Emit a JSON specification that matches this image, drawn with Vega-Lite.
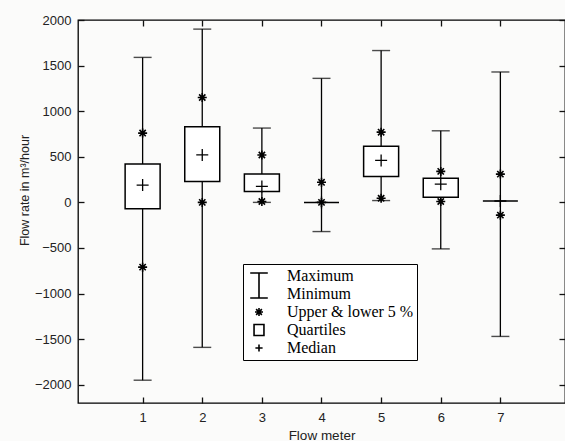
{
  "$schema": "https://vega.github.io/schema/vega-lite/v6.json",
  "width": 487,
  "height": 383,
  "autosize": {"type": "none"},
  "padding": {"left": 78, "top": 20, "right": 0, "bottom": 38},
  "background": "#fbfbfa",
  "datasets": {
    "stats": [
      {"meter": 1, "min": -1950, "p5lo": -710, "q1": -70, "median": 190, "q3": 420, "p5hi": 760, "max": 1590},
      {"meter": 2, "min": -1590, "p5lo": 0, "q1": 230, "median": 520, "q3": 830, "p5hi": 1150, "max": 1900},
      {"meter": 3, "min": 0, "p5lo": 10, "q1": 120, "median": 175, "q3": 310, "p5hi": 520, "max": 815},
      {"meter": 4, "min": -320, "p5lo": 0, "q1": 0, "median": 0, "q3": 0, "p5hi": 220, "max": 1360},
      {"meter": 5, "min": 20, "p5lo": 45, "q1": 285, "median": 460, "q3": 615, "p5hi": 770, "max": 1665},
      {"meter": 6, "min": -510, "p5lo": 10, "q1": 55, "median": 200, "q3": 265, "p5hi": 340, "max": 785},
      {"meter": 7, "min": -1470, "p5lo": -140, "q1": 15, "median": 15, "q3": 15, "p5hi": 310, "max": 1430}
    ],
    "legendItems": [
      {"item": "Maximum"},
      {"item": "Minimum"},
      {"item": "Upper & lower 5 %"},
      {"item": "Quartiles"},
      {"item": "Median"}
    ]
  },
  "data": {"name": "stats"},
  "config": {
    "view": {"stroke": "black", "strokeWidth": 1.3},
    "axis": {
      "labelFont": "Liberation Sans",
      "titleFont": "Liberation Sans",
      "labelFontSize": 13,
      "titleFontSize": 13,
      "titleFontWeight": "normal",
      "labelColor": "#222",
      "titleColor": "#222",
      "ticks": true,
      "tickColor": "#111",
      "tickOpacity": 1,
      "domain": false,
      "grid": false,
      "tickSize": 6,
      "offset": -6,
      "tickWidth": 1.3,
      "format": "d"
    }
  },
  "resolve": {"axis": {"x": "independent", "y": "independent"}},
  "layer": [
    {
      "mark": {"type": "rule", "color": "black", "strokeWidth": 1.3},
      "encoding": {
        "x": {"field": "meter", "type": "quantitative", "scale": {"domain": [0, 8], "nice": false, "zero": false},
              "axis": {"values": [1, 2, 3, 4, 5, 6, 7], "title": "Flow meter", "labelPadding": 8, "titlePadding": 4, "titleFontSize": 13.5}},
        "y": {"field": "min", "type": "quantitative", "scale": {"domain": [-2200, 2000], "nice": false, "zero": false},
              "axis": {"values": [-2000, -1500, -1000, -500, 0, 500, 1000, 1500, 2000], "title": "Flow rate in m³/hour", "labelPadding": 7, "titlePadding": 3, "titleFontSize": 12.5, "titleY": 170}},
        "y2": {"field": "max"}
      }
    },
    {
      "mark": {"type": "bar", "width": 35, "fill": "white", "stroke": "black", "strokeWidth": 1.5},
      "encoding": {
        "x": {"field": "meter", "type": "quantitative", "axis": null},
        "y": {"field": "q1", "type": "quantitative", "axis": null},
        "y2": {"field": "q3"}
      }
    },
    {
      "mark": {"type": "tick", "orient": "horizontal", "size": 18, "thickness": 1.4, "color": "black"},
      "encoding": {
        "x": {"field": "meter", "type": "quantitative", "axis": {"orient": "top", "values": [1, 2, 3, 4, 5, 6, 7], "labels": false, "title": null}},
        "y": {"field": "max", "type": "quantitative", "axis": {"orient": "right", "values": [-2000, -1500, -1000, -500, 0, 500, 1000, 1500, 2000], "labels": false, "title": null}}
      }
    },
    {
      "mark": {"type": "tick", "orient": "horizontal", "size": 18, "thickness": 1.4, "color": "black"},
      "encoding": {
        "x": {"field": "meter", "type": "quantitative", "axis": null},
        "y": {"field": "min", "type": "quantitative", "axis": null}
      }
    },
    {
      "mark": {"type": "point", "shape": "M-1,0L1,0M0,-1L0,1M-0.7,-0.7L0.7,0.7M-0.7,0.7L0.7,-0.7", "size": 81, "filled": false, "stroke": "black", "strokeWidth": 1.6, "opacity": 1},
      "encoding": {
        "x": {"field": "meter", "type": "quantitative", "axis": null},
        "y": {"field": "p5hi", "type": "quantitative", "axis": null}
      }
    },
    {
      "mark": {"type": "point", "shape": "M-1,0L1,0M0,-1L0,1M-0.7,-0.7L0.7,0.7M-0.7,0.7L0.7,-0.7", "size": 81, "filled": false, "stroke": "black", "strokeWidth": 1.6, "opacity": 1},
      "encoding": {
        "x": {"field": "meter", "type": "quantitative", "axis": null},
        "y": {"field": "p5lo", "type": "quantitative", "axis": null}
      }
    },
    {
      "mark": {"type": "point", "shape": "M-1,0L1,0M0,-1L0,1", "size": 144, "filled": false, "stroke": "black", "strokeWidth": 1.3, "opacity": 1},
      "encoding": {
        "x": {"field": "meter", "type": "quantitative", "axis": null},
        "y": {"field": "median", "type": "quantitative", "axis": null}
      }
    },
    {
      "data": {"name": "legendItems"},
      "mark": {"type": "point", "opacity": 0, "filled": false},
      "encoding": {
        "x": {"datum": 4, "type": "quantitative", "axis": null},
        "y": {"datum": 0, "type": "quantitative", "axis": null},
        "shape": {
          "field": "item",
          "type": "nominal",
          "scale": {
            "domain": ["Maximum", "Minimum", "Upper & lower 5 %", "Quartiles", "Median"],
            "range": [
              "M-1.1,-0.38H1.1M0,-0.38V1.2",
              "M0,-1.2V0.5M-1.1,0.5H1.1",
              "M-0.5,0H0.5M0,-0.5V0.5M-0.36,-0.36L0.36,0.36M-0.36,0.36L0.36,-0.36",
              "M-0.62,-0.68H0.62V0.68H-0.62Z",
              "M-0.45,0H0.45M0,-0.45V0.45"
            ]
          },
          "legend": {
            "title": null,
            "orient": "none",
            "legendX": 165,
            "legendY": 244,
            "direction": "vertical",
            "padding": 3,
            "strokeColor": "black",
            "fillColor": "white",
            "symbolSize": 256,
            "symbolOffset": 4,
            "symbolStrokeColor": "black",
            "symbolFillColor": "transparent",
            "symbolStrokeWidth": 1.6,
            "symbolOpacity": 1,
            "labelFont": "Liberation Serif",
            "labelFontSize": 16,
            "labelColor": "black",
            "labelOffset": 19,
            "labelLimit": 300,
            "rowPadding": 0,
            "clipHeight": 18
          }
        }
      }
    }
  ]
}
